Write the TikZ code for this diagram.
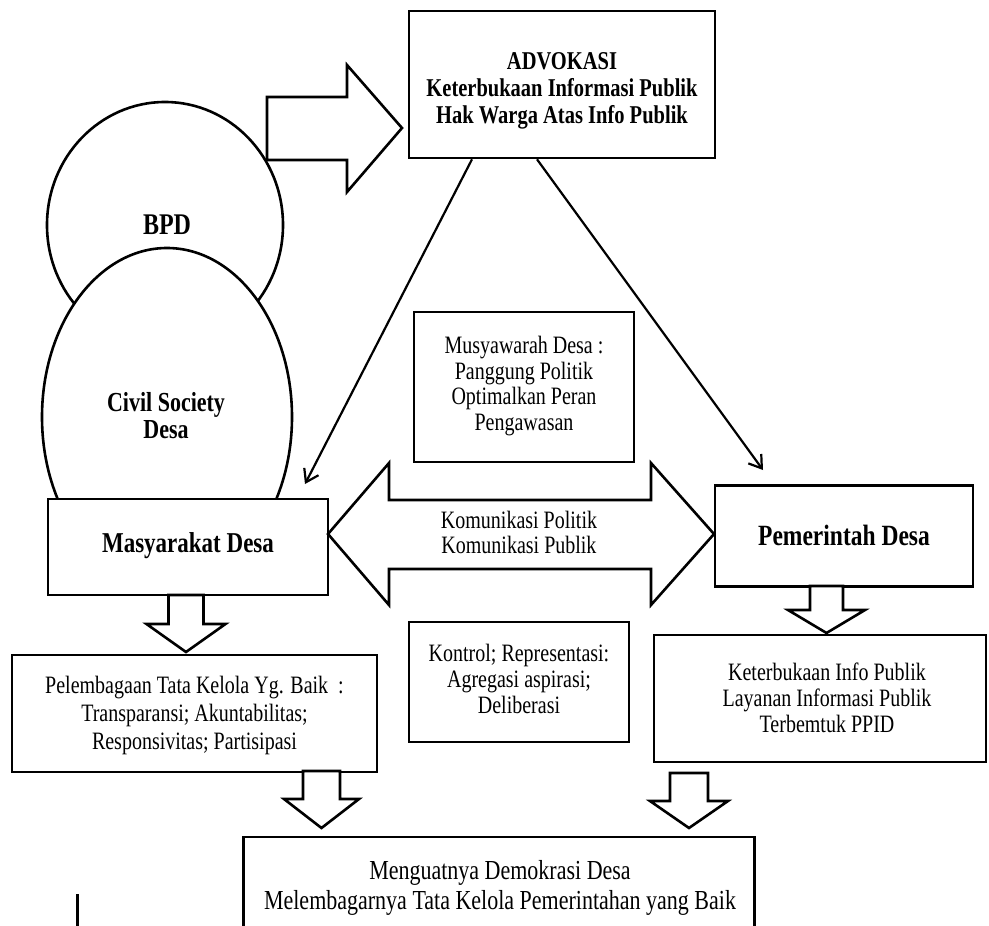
\documentclass[tikz,border=0pt]{standalone}
\usepackage{fontspec}
\usepackage{graphicx}
\setmainfont{Liberation Serif}
\usetikzlibrary{shapes.geometric,arrows.meta}
\tikzset{
  box/.style={draw=black,line width=2.6pt,fill=white,rectangle,inner sep=0pt,align=center},
  oval/.style={draw=black,line width=2.6pt,fill=white,ellipse,inner sep=0pt,align=center},
  blk/.style={draw=black,line width=2.6pt,fill=white,line join=miter},
  thinarrow/.style={draw=black,line width=2.2pt,-{Straight Barb[length=12pt,width=16pt,line width=2.2pt]}},
  txt/.style={inner sep=0pt}
}
% font size, baselineskip, lines ; stretched vertically like the reference
\newcommand\stx[3]{\scalebox{1}[1.25]{\fontsize{#1}{#2}\selectfont\begin{tabular}{@{}c@{}}#3\end{tabular}}}
\newcommand\downblk[6]{% cx, shaft half, head half, top, base, tip
  \draw[blk] (#1-#2,#4) -- (#1+#2,#4) -- (#1+#2,#5) -- (#1+#3,#5) -- (#1,#6) -- (#1-#3,#5) -- (#1-#2,#5) -- cycle;}
\begin{document}
\begin{tikzpicture}[x=1pt,y=-1pt]
\useasboundingbox[fill=white] (0,0) rectangle (989,926);
% circles
\node[oval,minimum width=236pt,minimum height=246pt] (bpd) at (165,225) {};
\node[txt] (bpdt) at (167,229) {\stx{24}{22}{\bfseries BPD}};
\node[oval,minimum width=250pt,minimum height=338pt] (cs) at (167,417) {};
\node[txt] (cst) at (166,420) {\stx{22}{21.6}{\bfseries Civil Society\\\bfseries Desa}};
% big right arrow
\draw[blk] (267,97) -- (347,97) -- (347,65) -- (402,128) -- (347,192) -- (347,160) -- (267,160) -- cycle;
% boxes
\node[box,minimum width=306pt,minimum height=147pt] (adv) at (562,84.5) {};
\node[txt] (advt) at (562,91) {\stx{20.5}{21.6}{\bfseries ADVOKASI\\\bfseries Keterbukaan Informasi Publik\\\bfseries Hak Warga Atas Info Publik}};
\node[box,minimum width=220pt,minimum height=150pt] (mus) at (524,387) {\stx{20}{20.5}{Musyawarah Desa :\\Panggung Politik\\Optimalkan Peran\\Pengawasan}};
\node[box,minimum width=280pt,minimum height=96pt] (mas) at (188,547) {\stx{23}{22}{\bfseries Masyarakat Desa}};
\node[box,minimum width=258pt,minimum height=101pt] (pem) at (844,536) {};
\node[txt] (pemt) at (844,539) {\stx{23.5}{22}{\bfseries Pemerintah Desa}};
% double arrow
\draw[blk] (328,534) -- (389,463) -- (389,500) -- (651,500) -- (651,463) -- (714,534) -- (651,605) -- (651,569) -- (389,569) -- (389,605) -- cycle;
\node[txt] (kom) at (519,536) {\stx{20}{19.2}{Komunikasi Politik\\Komunikasi Publik}};
% down arrows
\downblk{186}{17.5}{39.5}{595}{624}{652}
\downblk{826.5}{16.5}{38.5}{586}{610}{633}
\node[box,minimum width=365pt,minimum height=117pt] (pel) at (194.5,713.5) {};
\node[txt] (pelt) at (194.5,716) {\stx{20}{22.4}{Pelembagaan Tata Kelola Yg. Baik \ :\\Transparansi; Akuntabilitas;\\Responsivitas; Partisipasi}};
\node[box,minimum width=332pt,minimum height=127pt] (ket) at (820,698.5) {};
\node[txt] (kett) at (827,701) {\stx{20}{20.8}{Keterbukaan Info Publik\\Layanan Informasi Publik\\Terbemtuk PPID}};
\node[box,minimum width=220pt,minimum height=120pt] (kon) at (519,682) {\stx{20}{20.8}{Kontrol; Representasi:\\Agregasi aspirasi;\\Deliberasi}};
\downblk{321.5}{18.5}{37.5}{771}{799}{828}
\downblk{689}{19}{39}{773}{801}{828}
\node[box,minimum width=511pt,minimum height=96pt] (bot) at (499,885) {};
\node[txt] (bott) at (500,888) {\stx{22}{24}{Menguatnya Demokrasi Desa\\Melembagarnya Tata Kelola Pemerintahan yang Baik}};
% thin arrows
\coordinate (tipL) at (305,484);
\coordinate (tipR) at (763,470);
\draw[thinarrow] ([xshift=-90pt]adv.south) -- (tipL);
\draw[thinarrow] ([xshift=-25pt]adv.south) -- (tipR);
% stray vertical mark
\coordinate (m1) at (77,894);
\coordinate (m2) at (77,926);
\draw[line width=3pt] (m1) -- (m2);
\end{tikzpicture}
\end{document}
